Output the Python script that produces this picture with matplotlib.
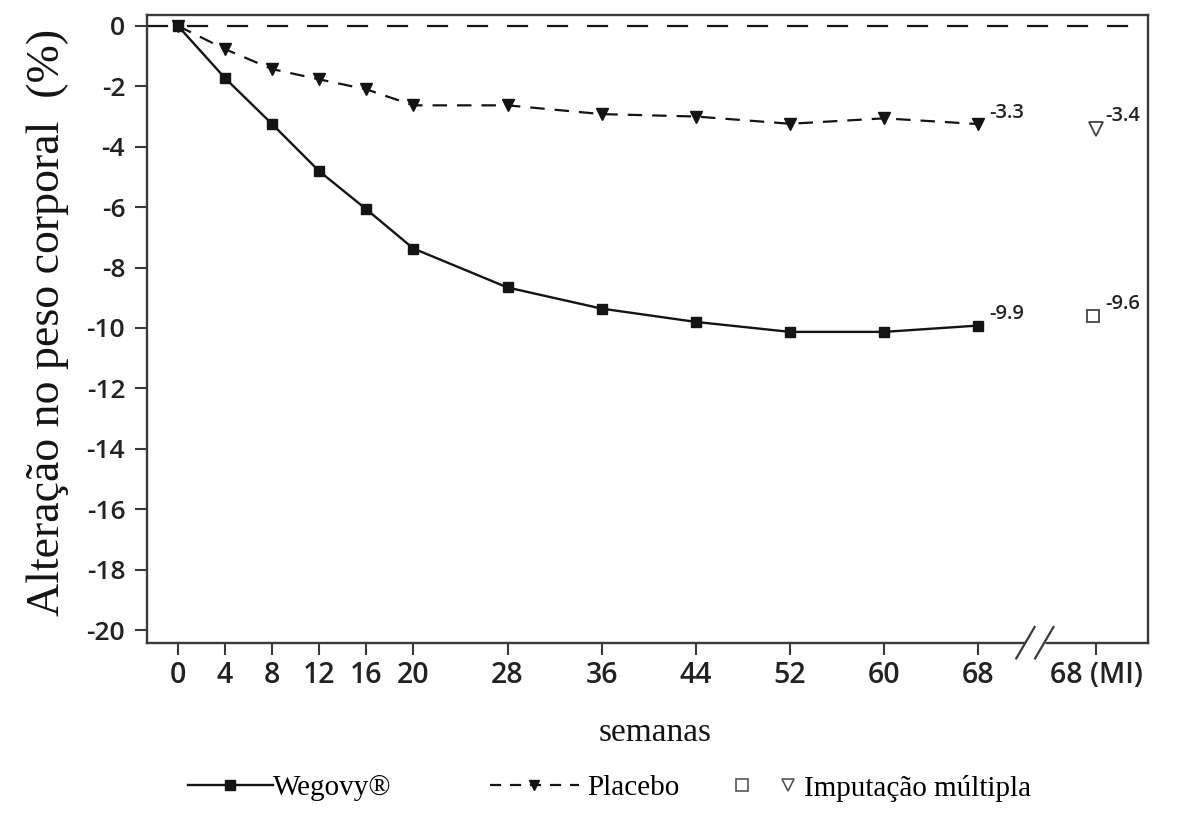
import matplotlib
matplotlib.use("Agg")
import matplotlib.pyplot as plt
import matplotlib.transforms as mtransforms
from matplotlib.lines import Line2D
from matplotlib.legend_handler import HandlerTuple

# semanas (a posicao 78 representa "68 (MI)" depois da quebra do eixo)
weeks = [0, 4, 8, 12, 16, 20, 28, 36, 44, 52, 60, 68]
wegovy = [0.0, -1.73, -3.25, -4.81, -6.07, -7.37, -8.66, -9.36, -9.8, -10.13, -10.13, -9.92]
placebo = [0.0, -0.77, -1.43, -1.77, -2.1, -2.63, -2.63, -2.92, -3.0, -3.24, -3.06, -3.25]

mi_week = 78
mi_wegovy = -9.6
mi_placebo = -3.4

tick_pos = weeks + [mi_week]
tick_labels = [str(w) for w in weeks] + ["68 (MI)"]
y_ticks = list(range(0, -21, -2))

end_labels = ["-9.9", "-3.3"]
mi_labels = ["-9.6", "-3.4"]

BREAK_AT = (72.0, 73.7)   # onde o eixo x e interrompido

INK = "#141414"
SPINE = "#3a3a3a"
SERIF = ["Liberation Serif", "DejaVu Serif"]
SANS = ["Open Sans", "DejaVu Sans"]

fig = plt.figure(figsize=(11.78, 8.35), dpi=100)
ax = fig.add_axes([0.1245, 0.2303, 0.8503, 0.7517])

ax.axhline(0, color=INK, lw=1.6, dashes=(9.5, 8.5), zorder=1)

ax.plot(weeks, wegovy, color=INK, lw=1.7, marker="s", ms=7.5,
        mfc=INK, mec=INK, zorder=3)
ax.plot(weeks, placebo, color=INK, lw=1.6, dashes=(6.5, 4.5), marker="v",
        ms=8, mfc=INK, mec=INK, zorder=3)

ax.plot([mi_week - 0.3], [mi_wegovy], linestyle="none", marker="s", ms=9,
        mfc="white", mec="#444444", mew=1.3, zorder=3)
ax.plot([mi_week], [mi_placebo], linestyle="none", marker="v", ms=10,
        mfc="white", mec="#444444", mew=1.3, zorder=3)

for val, lab in zip([wegovy[-1], placebo[-1]], end_labels):
    ax.annotate(lab, (weeks[-1], val), xytext=(7.5, 4.5), textcoords="offset points",
                ha="left", va="baseline", fontsize=14.5, color="#222222",
                family=SANS, weight="semibold")
for val, lab in zip([mi_wegovy, mi_placebo], mi_labels):
    ax.annotate(lab, (mi_week, val), xytext=(6.5, 5.3), textcoords="offset points",
                ha="left", va="baseline", fontsize=14.5, color="#222222",
                family=SANS, weight="semibold")

ax.set_xlim(-2.66, 82.44)
ax.set_ylim(-20.42, 0.36)
ax.set_xticks(tick_pos)
ax.set_xticklabels(tick_labels)
ax.set_yticks(y_ticks)
ax.set_yticklabels([str(v) for v in y_ticks])

for sp in ax.spines.values():
    sp.set_color(SPINE)
    sp.set_linewidth(1.7)

ax.tick_params(axis="both", direction="out", length=8.5, width=1.5, color=SPINE,
               labelcolor="#222222")
ax.tick_params(axis="x", labelsize=20.5, pad=5)
ax.tick_params(axis="y", labelsize=19, pad=7)
for lab in ax.get_xticklabels() + ax.get_yticklabels():
    lab.set_family(SANS)
    lab.set_weight("semibold")

# quebra do eixo x
trans = mtransforms.blended_transform_factory(ax.transData, ax.transAxes)
ax.plot(list(BREAK_AT), [0, 0], color="white", lw=3.8, transform=trans,
        clip_on=False, zorder=5, solid_capstyle="butt")
for xb in (BREAK_AT[0], BREAK_AT[1] - 0.1):
    ax.plot([xb - 0.78, xb + 0.78], [-0.025, 0.025], color=SPINE, lw=1.6,
            transform=trans, clip_on=False, zorder=6)

ax.set_ylabel("Alteração no peso corporal  (%)", fontsize=33, family=SERIF,
              color=INK, va="center")
ax.yaxis.set_label_coords(-0.099, 0.511)
ax.set_xlabel("semanas", fontsize=24, family=SERIF, color=INK, va="center")
ax.xaxis.set_label_coords(0.5075, -0.1439)

# legenda em tres blocos, como no original
leg_y = 1 - 788 / 835
h_weg = Line2D([], [], color=INK, lw=1.7, marker="s", ms=7, mfc=INK, mec=INK)
h_pla = Line2D([], [], color=INK, lw=1.6, dashes=(5, 4), marker="v", ms=7.5,
               mfc=INK, mec=INK)
h_msq = Line2D([], [], linestyle="none", marker="s", ms=8, mfc="white",
               mec="#555555", mew=1.2)
h_mtr = Line2D([], [], linestyle="none", marker="v", ms=8, mfc="white",
               mec="#555555", mew=1.2)

common = dict(frameon=False, loc="center left", borderpad=0, borderaxespad=0,
              prop={"family": SERIF, "size": 21}, bbox_transform=fig.transFigure)
l1 = fig.legend([h_weg], ["Wegovy®"], bbox_to_anchor=(188 / 1178, leg_y),
                handlelength=2.9, handletextpad=0.0, **common)
l2 = fig.legend([h_pla], ["Placebo"], bbox_to_anchor=(490 / 1178, leg_y),
                handlelength=3.05, handletextpad=0.28, **common)
l3 = fig.legend([(h_msq, h_mtr)], ["Imputação múltipla"],
                bbox_to_anchor=(730 / 1178, leg_y), handlelength=2.4,
                handletextpad=0.15,
                handler_map={tuple: HandlerTuple(ndivide=None, pad=0.75)}, **common)

fig.savefig("out.png", dpi=100, facecolor="white")
